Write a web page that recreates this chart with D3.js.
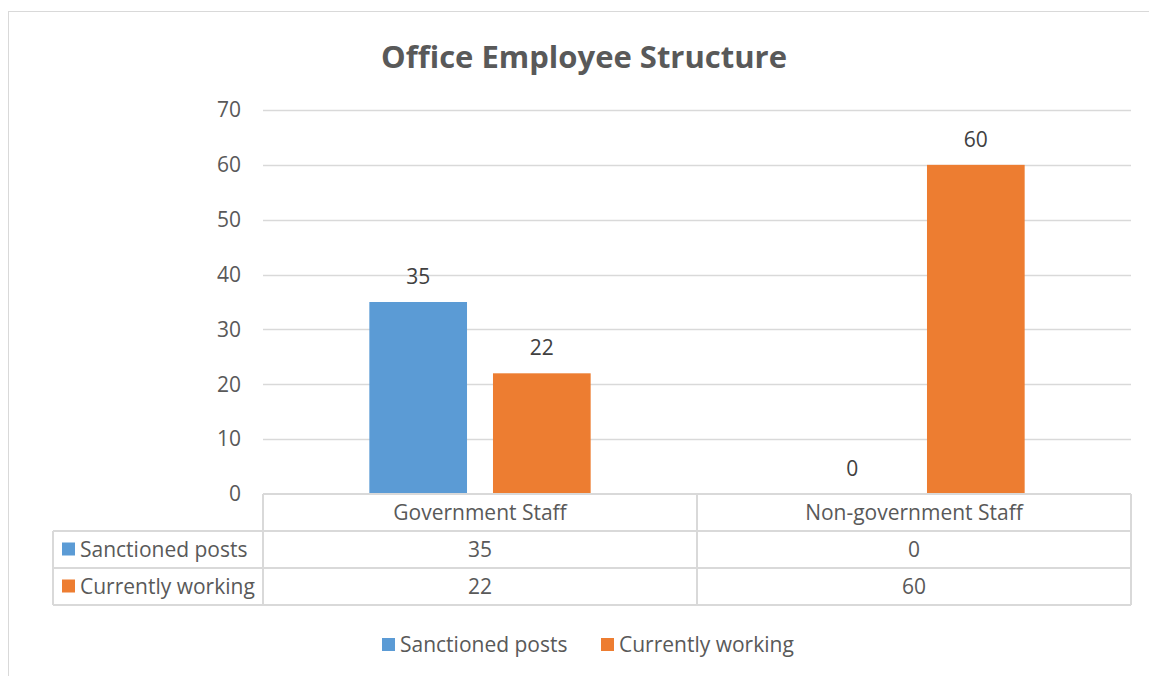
<!DOCTYPE html>
<html>
<head>
<meta charset="utf-8">
<script src="https://cdn.jsdelivr.net/npm/d3@7"></script>
<style>
  body { margin: 0; background: #fff; }
  text { font-family: "Open Sans", sans-serif; }
</style>
</head>
<body>
<svg id="chart" width="1149" height="676"></svg>
<script>
// chart data
var categories = ["Government Staff", "Non-government Staff"];
var seriesNames = ["Sanctioned posts", "Currently working"];
var sanctioned = [35, 0];
var working = [22, 60];
var yTicks = [0, 10, 20, 30, 40, 50, 60, 70];
var colors = ["#5B9BD5", "#ED7D31"];

var seriesValues = [sanctioned, working];

var svg = d3.select("#chart");
var grid = "#d9d9d9";
var textCol = "#595959";
var fs = 21;

// outer chart border
svg.append("rect")
	.attr("x", 8.5).attr("y", 11.5)
	.attr("width", 1160).attr("height", 700)
	.attr("fill", "none").attr("stroke", grid);

// title
svg.append("text")
	.attr("x", 584).attr("y", 68)
	.attr("text-anchor", "middle")
	.attr("font-size", 31).attr("font-weight", "bold")
	.attr("fill", textCol)
	.text("Office Employee Structure");

var plotLeft = 263, plotRight = 1131, plotTop = 110, plotBottom = 494;

var x0 = d3.scaleBand().domain(categories).range([plotLeft, plotRight]);
var x1 = d3.scaleBand().domain(seriesNames)
	.range([0, x0.bandwidth()])
	.paddingInner(0.21).paddingOuter(0.86);
var y = d3.scaleLinear().domain([0, 70]).range([plotBottom, plotTop]);

// gridlines
svg.append("g").selectAll("line").data(yTicks.slice(1)).enter().append("line")
	.attr("x1", plotLeft).attr("x2", plotRight)
	.attr("y1", function(d) { return Math.round(y(d)) + 0.5; })
	.attr("y2", function(d) { return Math.round(y(d)) + 0.5; })
	.attr("stroke", grid).attr("stroke-width", 1.3);

// y axis labels
var yAxis = d3.axisLeft(y).tickValues(yTicks).tickSize(0).tickPadding(22);
var ya = svg.append("g").attr("transform", "translate(" + plotLeft + ",0)").call(yAxis);
ya.select(".domain").remove();
ya.selectAll("text")
	.attr("font-size", fs).attr("fill", textCol)
	.style("font-family", "'Open Sans', sans-serif");

// bars
categories.forEach(function(cat, ci) {
	seriesNames.forEach(function(s, si) {
		var v = seriesValues[si][ci];
		var bx = x0(cat) + x1(s);
		svg.append("rect")
			.attr("x", bx).attr("y", y(v))
			.attr("width", x1.bandwidth()).attr("height", plotBottom - y(v))
			.attr("fill", colors[si]);
		svg.append("text")
			.attr("x", bx + x1.bandwidth() / 2).attr("y", y(v) - 18)
			.attr("text-anchor", "middle")
			.attr("font-size", fs).attr("fill", "#404040")
			.text(v);
	});
});

// data table
var rowH = 37;
var tblLeft = 53;
var tg = svg.append("g");
var lineStyle = function(sel) { return sel.attr("stroke", grid).attr("stroke-width", 2); };

lineStyle(tg.append("line").attr("x1", plotLeft).attr("x2", plotRight).attr("y1", plotBottom).attr("y2", plotBottom));
[1, 2, 3].forEach(function(r) {
	lineStyle(tg.append("line").attr("x1", tblLeft).attr("x2", plotRight)
		.attr("y1", plotBottom + r * rowH).attr("y2", plotBottom + r * rowH));
});
lineStyle(tg.append("line").attr("x1", tblLeft).attr("x2", tblLeft).attr("y1", plotBottom + rowH).attr("y2", plotBottom + 3 * rowH));
[plotLeft, x0(categories[1]), plotRight].forEach(function(xx) {
	lineStyle(tg.append("line").attr("x1", xx).attr("x2", xx).attr("y1", plotBottom).attr("y2", plotBottom + 3 * rowH));
});

categories.forEach(function(cat) {
	tg.append("text")
		.attr("x", x0(cat) + x0.bandwidth() / 2).attr("y", plotBottom + rowH / 2 + 7)
		.attr("text-anchor", "middle").attr("font-size", fs).attr("fill", textCol)
		.text(cat);
});

seriesNames.forEach(function(s, si) {
	var cy = plotBottom + (si + 1) * rowH + rowH / 2;
	tg.append("rect").attr("x", 62).attr("y", cy - 7).attr("width", 13).attr("height", 13).attr("fill", colors[si]);
	tg.append("text").attr("x", 80).attr("y", cy + 7)
		.attr("font-size", fs).attr("fill", textCol).text(s);
	categories.forEach(function(cat, ci) {
		tg.append("text")
			.attr("x", x0(cat) + x0.bandwidth() / 2).attr("y", cy + 7)
			.attr("text-anchor", "middle").attr("font-size", fs).attr("fill", textCol)
			.text(seriesValues[si][ci]);
	});
});

// legend
var legendX = [382, 601];
seriesNames.forEach(function(s, si) {
	svg.append("rect").attr("x", legendX[si]).attr("y", 638).attr("width", 13).attr("height", 13).attr("fill", colors[si]);
	svg.append("text").attr("x", legendX[si] + 18).attr("y", 652)
		.attr("font-size", fs).attr("fill", textCol).text(s);
});
</script>
</body>
</html>
